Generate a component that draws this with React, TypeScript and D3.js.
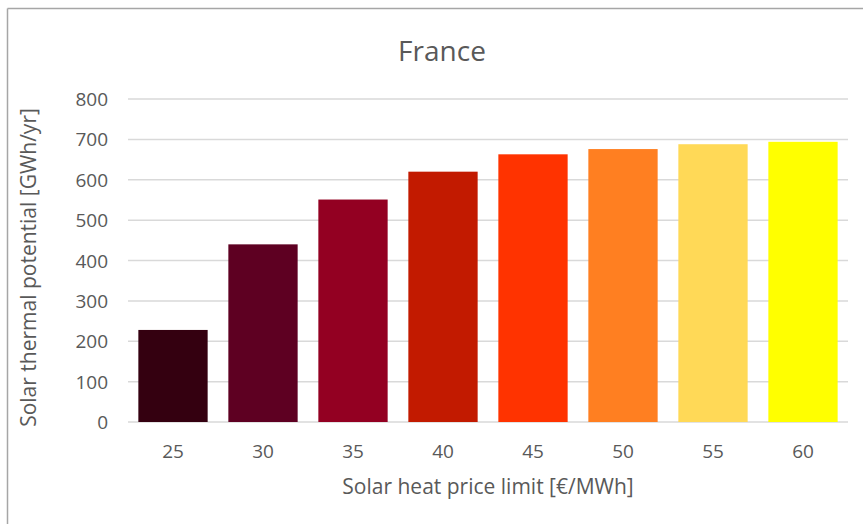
import React from "react";
import * as d3 from "d3";

const categories = ["25", "30", "35", "40", "45", "50", "55", "60"];
const values = [228, 440, 551, 620, 663, 676, 688, 694];
const barColors = ["#340010", "#5e0022", "#930022", "#c21a00", "#ff3300", "#ff7f21", "#ffd957", "#ffff00"];
const yTicks = [0, 100, 200, 300, 400, 500, 600, 700, 800];
const title = "France";
const xTitle = "Solar heat price limit [€/MWh]";
const yTitle = "Solar thermal potential [GWh/yr]";

const W = 863;
const H = 524;
const plot = { left: 128, right: 848, top: 99, bottom: 422 };
const font = "'Open Sans', sans-serif";
const textColor = "#595959";

export default function App() {
  const x = d3.scaleBand<string>().domain(categories).range([plot.left, plot.right]).paddingInner(0.23).paddingOuter(0.115);
  const y = d3.scaleLinear().domain([0, 800]).range([plot.bottom, plot.top]);
  return (
    <svg width={W} height={H} style={{ position: "absolute", left: 0, top: 0, background: "#fff" }}>
      <rect x={0} y={0} width={W} height={H} fill="#fff" />
      <line x1={7.5} y1={8.5} x2={W} y2={8.5} stroke="#a6a6a6" strokeWidth={1.5} />
      <line x1={7.5} y1={8.5} x2={7.5} y2={H} stroke="#a6a6a6" strokeWidth={1.5} />
      <text x={442} y={50} textAnchor="middle" dominantBaseline="central" fontFamily={font} fontSize={28} fill={textColor}>{title}</text>
      {yTicks.map((t) => (
        <g key={t}>
          <line x1={plot.left} x2={plot.right} y1={y(t)} y2={y(t)} stroke="#d9d9d9" strokeWidth={1.5} />
          <text x={108} y={y(t)} textAnchor="end" dominantBaseline="central" fontFamily={font} fontSize={19} fill={textColor}>{t}</text>
        </g>
      ))}
      {categories.map((c, i) => (
        <rect key={c} x={x(c)} y={y(values[i])} width={x.bandwidth()} height={y(0) - y(values[i])} fill={barColors[i]} />
      ))}
      {categories.map((c) => (
        <text key={c} x={(x(c) as number) + x.bandwidth() / 2} y={451} textAnchor="middle" dominantBaseline="central" fontFamily={font} fontSize={19} fill={textColor}>{c}</text>
      ))}
      <text x={488} y={486} textAnchor="middle" dominantBaseline="central" fontFamily={font} fontSize={21} fill={textColor}>{xTitle}</text>
      <text transform={`translate(28,${267.5}) rotate(-90)`} textAnchor="middle" dominantBaseline="central" fontFamily={font} fontSize={21} fill={textColor}>{yTitle}</text>
    </svg>
  );
}
